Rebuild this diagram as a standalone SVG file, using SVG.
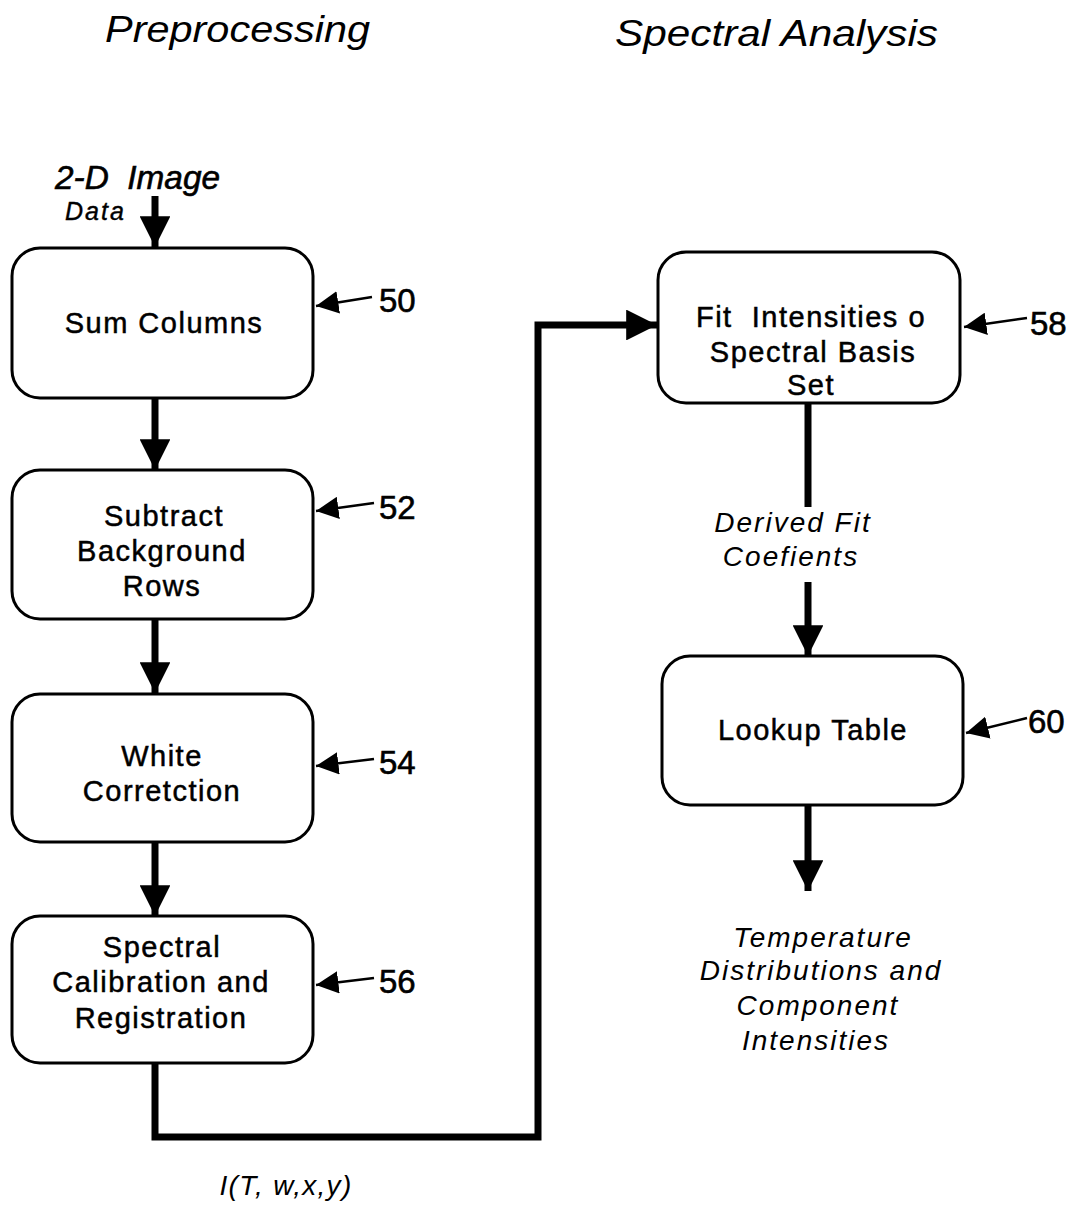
<svg xmlns="http://www.w3.org/2000/svg" width="1083" height="1206" viewBox="0 0 1083 1206">
<defs>
<style>
text{font-family:"Liberation Sans",Arial,sans-serif;fill:#000}
.title{font-size:37px;font-style:italic}
.lbl{font-size:29px;letter-spacing:1.5px;text-anchor:middle;stroke:#000;stroke-width:0.5}
.it{font-size:28px;letter-spacing:2px;font-style:italic;text-anchor:middle}
.num{font-size:33px;stroke:#000;stroke-width:0.6}
.box{fill:#fff;stroke:#000;stroke-width:3}
.conn{fill:none;stroke:#000;stroke-width:7}
.ref{fill:none;stroke:#000;stroke-width:2.5}
</style>
<marker id="ah" viewBox="0 0 10 10" refX="10" refY="5" markerWidth="4.4" markerHeight="4.4" markerUnits="strokeWidth" orient="auto">
<path d="M0,0 L10,5 L0,10 Z" fill="#000"/>
</marker>
<marker id="rh" viewBox="0 0 10 10" refX="10" refY="5" markerWidth="9" markerHeight="9" markerUnits="strokeWidth" orient="auto">
<path d="M0,0 L10,5 L0,10 Z" fill="#000"/>
</marker>
</defs>
<rect width="1083" height="1206" fill="#fff"/>
<text class="title" x="105" y="42" textLength="265" lengthAdjust="spacingAndGlyphs">Preprocessing</text>
<text class="title" x="615" y="46" textLength="323" lengthAdjust="spacingAndGlyphs">Spectral Analysis</text>

<g id="connectors">
<line class="conn" x1="155" y1="196" x2="155" y2="247" marker-end="url(#ah)"/>
<line class="conn" x1="155" y1="398" x2="155" y2="470" marker-end="url(#ah)"/>
<line class="conn" x1="155" y1="619" x2="155" y2="693" marker-end="url(#ah)"/>
<line class="conn" x1="155" y1="842" x2="155" y2="916" marker-end="url(#ah)"/>
<path class="conn" d="M155,1063 V1137 H538 V325 H657" marker-end="url(#ah)" stroke-linejoin="miter"/>
<line class="conn" x1="808" y1="403" x2="808" y2="507"/>
<line class="conn" x1="808" y1="582" x2="808" y2="656" marker-end="url(#ah)"/>
<line class="conn" x1="808" y1="805" x2="808" y2="891" marker-end="url(#ah)"/>
</g>

<g id="input-label">
<text x="55" y="189" textLength="165" lengthAdjust="spacingAndGlyphs" style="font-size:33px;font-style:italic;stroke:#000;stroke-width:0.6">2-D&#160; Image</text>
<text x="65" y="220" style="font-size:25px;letter-spacing:2px;font-style:italic;stroke:#000;stroke-width:0.4">Data</text>
</g>

<g id="n50">
<rect class="box" x="12" y="248" width="301" height="150" rx="28"/>
<text class="lbl" x="164" y="333">Sum Columns</text>
<line class="ref" x1="372" y1="297" x2="316" y2="306" marker-end="url(#rh)"/>
<text class="num" x="379" y="312">50</text>
</g>
<g id="n52">
<rect class="box" x="12" y="470" width="301" height="149" rx="28"/>
<text class="lbl" x="164" y="526">Subtract</text>
<text class="lbl" x="162" y="561">Background</text>
<text class="lbl" x="162" y="596">Rows</text>
<line class="ref" x1="374" y1="503" x2="316" y2="511" marker-end="url(#rh)"/>
<text class="num" x="379" y="519">52</text>
</g>
<g id="n54">
<rect class="box" x="12" y="694" width="301" height="148" rx="28"/>
<text class="lbl" x="162" y="766">White</text>
<text class="lbl" x="162" y="801">Corretction</text>
<line class="ref" x1="374" y1="759" x2="316" y2="766" marker-end="url(#rh)"/>
<text class="num" x="379" y="774">54</text>
</g>
<g id="n56">
<rect class="box" x="12" y="916" width="301" height="147" rx="28"/>
<text class="lbl" x="162" y="957">Spectral</text>
<text class="lbl" x="161" y="992">Calibration and</text>
<text class="lbl" x="161" y="1028">Registration</text>
<line class="ref" x1="374" y1="978" x2="316" y2="985" marker-end="url(#rh)"/>
<text class="num" x="379" y="993">56</text>
</g>
<g id="n58">
<rect class="box" x="658" y="252" width="302" height="151" rx="28"/>
<text class="lbl" x="811" y="327">Fit&#160; Intensities o</text>
<text class="lbl" x="813" y="362">Spectral Basis</text>
<text class="lbl" x="811" y="395">Set</text>
<line class="ref" x1="1027" y1="318" x2="964" y2="327" marker-end="url(#rh)"/>
<text class="num" x="1030" y="335">58</text>
</g>
<g id="n60">
<rect class="box" x="662" y="656" width="301" height="149" rx="28"/>
<text class="lbl" x="813" y="740">Lookup Table</text>
<line class="ref" x1="1027" y1="718" x2="966" y2="733" marker-end="url(#rh)"/>
<text class="num" x="1028" y="733">60</text>
</g>

<g id="edge-labels">
<text class="it" x="793" y="532">Derived Fit</text>
<text class="it" x="791" y="566">Coefients</text>
<text class="it" x="823" y="947">Temperature</text>
<text class="it" x="821" y="980">Distributions and</text>
<text class="it" x="818" y="1015">Component</text>
<text class="it" x="816" y="1050">Intensities</text>
<text x="286" y="1195" style="font-size:28px;letter-spacing:1.3px;font-style:italic;text-anchor:middle">I(T, w,x,y)</text>
</g>
</svg>
